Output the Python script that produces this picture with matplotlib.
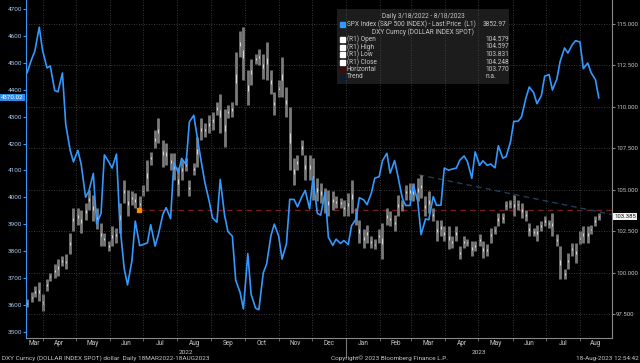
import numpy as np
import pandas as pd
import matplotlib
matplotlib.use('Agg')
import matplotlib.pyplot as plt
import matplotlib.transforms as mtransforms

plt.rcParams['font.family'] = ['Roboto', 'DejaVu Sans']

# Sample dates: first day, then Tuesdays and Fridays up to 18 Aug 2023
dates = pd.DatetimeIndex(['2022-03-18']).append(
    pd.date_range('2022-03-21', '2023-08-18', freq='W-TUE').append(
        pd.date_range('2022-03-21', '2023-08-18', freq='W-FRI')).sort_values())

# SPX Index close (left axis)
spx = [4463, 4512, 4543, 4632, 4546, 4481, 4488, 4397, 4392, 4462,
       4272, 4175, 4132, 4175, 4123, 4001, 4024, 4089, 3901, 3941,
       4158, 4132, 4109, 4161, 3901, 3735, 3675, 3765, 3912, 3821,
       3825, 3831, 3899, 3819, 3863, 3937, 3962, 3921, 4130, 4091,
       4145, 4122, 4280, 4305, 4228, 4128, 4057, 3986, 3924, 3908,
       4067, 3932, 3873, 3856, 3693, 3647, 3586, 3791, 3640, 3589,
       3583, 3720, 3752, 3859, 3901, 3856, 3771, 3828, 3993, 3992,
       3965, 4003, 4026, 3958, 4072, 3941, 3934, 4019, 3852, 3822,
       3845, 3829, 3840, 3825, 3895, 3919, 3999, 3991, 3973, 4017,
       4071, 4077, 4136, 4164, 4090, 4137, 4079, 3997, 3970, 3970,
       4046, 3986, 3862, 3920, 3917, 4003, 3971, 3971, 4109, 4101,
       4105, 4109, 4138, 4154, 4133, 4071, 4169, 4119, 4136, 4119,
       4124, 4110, 4192, 4146, 4151, 4206, 4282, 4283, 4299, 4369,
       4410, 4389, 4348, 4378, 4450, 4456, 4399, 4439, 4505, 4555,
       4536, 4567, 4582, 4577, 4478, 4499, 4464, 4437, 4370]

# DXY Curncy low / high per sample (right axis)
dxy_low = [97.9, 98.2, 98.5, 98.3, 97.7, 98.9, 99.5, 99.7, 99.8, 100.4,
           100.2, 101.1, 102.5, 102.9, 102.4, 103.2, 103.8, 103.1, 102.6, 101.6,
           101.6, 101.3, 101.6, 101.8, 102.4, 104.2, 103.4, 104.1, 103.9, 103.7,
           104.6, 104.9, 106.5, 107.5, 107.8, 106.4, 106.5, 106.2, 105.6, 104.6,
           105.6, 106.1, 104.6, 105.9, 106.4, 108.0, 108.2, 108.4, 108.6, 109.5,
           108.4, 107.6, 109.3, 109.4, 110.1, 113.0, 111.6, 110.1, 111.3, 112.6,
           112.5, 111.7, 111.6, 110.8, 109.5, 110.6, 110.6, 109.4, 106.2, 105.3,
           106.2, 107.1, 105.6, 105.6, 104.4, 104.3, 104.2, 103.6, 103.4, 103.8,
           103.9, 103.9, 103.4, 103.4, 103.6, 102.9, 101.8, 101.5, 101.8, 101.5,
           101.4, 101.8, 100.8, 102.9, 102.8, 102.5, 103.4, 103.7, 104.4, 104.4,
           104.3, 104.3, 104.5, 103.4, 103.6, 103.1, 101.9, 102.2, 101.9, 101.4,
           101.5, 101.9, 100.8, 101.5, 101.6, 101.0, 101.3, 101.6, 100.9, 101.0,
           101.8, 102.3, 102.8, 103.0, 103.8, 103.9, 103.4, 103.8, 103.3, 103.1,
           102.2, 102.2, 101.9, 102.5, 102.8, 102.7, 102.2, 101.6, 99.6, 99.6,
           100.2, 101.0, 100.6, 101.7, 101.8, 101.8, 102.3, 102.8, 103.2]
dxy_high = [98.4, 98.8, 99.2, 99.4, 98.7, 99.6, 100.0, 100.5, 100.8, 101.0,
            101.1, 102.4, 103.9, 103.9, 103.8, 104.2, 105.0, 104.7, 103.9, 103.0,
            102.4, 101.9, 102.8, 102.7, 104.2, 105.6, 105.0, 104.9, 104.8, 104.6,
            105.3, 106.8, 107.3, 108.6, 109.3, 108.0, 107.8, 107.2, 107.2, 106.4,
            106.8, 106.9, 105.6, 106.6, 108.2, 109.3, 109.0, 109.5, 109.7, 110.3,
            110.8, 109.9, 110.1, 110.3, 113.3, 114.6, 114.8, 112.2, 112.9, 113.2,
            113.5, 113.2, 113.9, 112.2, 110.9, 111.6, 113.0, 111.2, 110.0, 106.9,
            107.1, 108.0, 107.1, 107.1, 106.9, 105.7, 105.4, 105.1, 105.0, 104.9,
            104.6, 104.5, 104.4, 104.8, 105.6, 103.9, 103.2, 102.6, 102.9, 102.2,
            102.0, 102.6, 103.0, 103.9, 103.7, 103.5, 104.7, 104.4, 105.3, 105.4,
            105.4, 105.7, 105.9, 104.6, 104.9, 103.9, 103.2, 103.2, 102.8, 102.8,
            102.2, 102.8, 101.6, 102.2, 102.0, 101.9, 101.9, 102.3, 101.9, 101.7,
            102.7, 102.8, 103.6, 103.6, 104.3, 104.4, 104.7, 104.4, 104.2, 103.8,
            103.0, 102.7, 102.9, 103.1, 103.4, 103.2, 103.6, 102.3, 101.6, 100.2,
            101.2, 101.8, 101.8, 102.5, 102.8, 102.8, 102.9, 103.4, 103.6]

horizontal_level = 103.77
horizontal_start = pd.Timestamp('2022-06-27')
trend_dates = [pd.Timestamp('2023-03-08'), pd.Timestamp('2023-08-30')]
trend_values = [105.9, 103.5]

left_ticks = [3500, 3600, 3700, 3800, 3900, 4000, 4100, 4200, 4300, 4400, 4500, 4600, 4700]
right_ticks = [97.5, 100.0, 102.5, 105.0, 107.5, 110.0, 112.5, 115.0]

legend_rows = [('(R1) Open', '104.579'), ('(R1) High', '104.597'),
               ('(R1) Low', '103.831'), ('(R1) Close', '104.248'),
               ('Horizontal', '103.770'), ('Trend', 'n.a.')]

W, H = 640, 363
BG = '#000000'
BLUE = '#3399ff'
TXT = '#c8c8c8'
GRID = '#4a4a4a'

fig = plt.figure(figsize=(W / 100, H / 100), dpi=100, facecolor=BG)
ax = fig.add_axes([26 / W, 25 / H, 586 / W, 338 / H])
ax2 = ax.twinx()
ax2.set_facecolor(BG)
ax.set_zorder(ax2.get_zorder() + 1)
ax.patch.set_visible(False)

x0, x1 = pd.Timestamp('2022-03-17'), pd.Timestamp('2023-08-30')
ax.set_xlim(x0, x1)
ax.set_ylim(3478, 4733)
ax2.set_ylim(96.05, 116.45)

# DXY candles
lo = np.array(dxy_low)
hi = np.array(dxy_high)
ax2.vlines(dates, lo, hi, color='#7a7a7a', lw=2.0, zorder=3)
rng = hi - lo
ax2.vlines(dates, lo + rng * 0.42, hi - rng * 0.42, color='#e8e8e8', lw=0.6, zorder=4)

# horizontal and trend lines
ax2.hlines(horizontal_level, horizontal_start, x1, color='#7a1c1c', lw=1.0,
           linestyles=(0, (4, 3)), zorder=2)
ax2.plot([horizontal_start], [horizontal_level], marker='s', ms=3, color='#ff8c00',
         zorder=5, clip_on=False)
ax2.plot(trend_dates, trend_values, color='#1f3d5c', lw=1.0, ls=(0, (4, 3)), zorder=2)

# SPX line
ax.plot(dates, spx, color=BLUE, lw=1.2, zorder=5)

# grids
month_starts = pd.date_range('2022-04-01', '2023-08-01', freq='MS')
ax.set_xticks(month_starts, minor=True)
ax.grid(which='minor', axis='x', color=GRID, ls=(0, (1, 2)), lw=0.6)
ax2.set_yticks(right_ticks)
ax2.grid(axis='y', color=GRID, ls=(0, (1, 2)), lw=0.6)
ax.grid(which='major', axis='x', visible=False)

# month labels centred on visible span of each month
edges = [x0] + list(month_starts) + [x1]
mids = [a + (b - a) / 2 for a, b in zip(edges[:-1], edges[1:])]
ax.set_xticks(mids)
ax.set_xticklabels([m.strftime('%b') for m in mids])
ax.tick_params(axis='x', which='major', length=0, pad=1.5, labelsize=4.7, labelcolor=TXT)
ax.tick_params(axis='x', which='minor', length=2, color='#777777')

ax.set_yticks(left_ticks)
ax.tick_params(axis='y', length=2, color=BLUE, labelsize=4.6, labelcolor='#a9c9ee', pad=1)
ax2.tick_params(axis='y', length=2, color='#888888', labelsize=4.3, labelcolor=TXT, pad=1)
ax2.yaxis.set_major_formatter(matplotlib.ticker.FormatStrFormatter('%.3f'))

for a in (ax, ax2):
    a.spines['top'].set_visible(False)
ax.spines['left'].set_color(BLUE)
ax.spines['right'].set_visible(False)
ax2.spines['left'].set_visible(False)
ax2.spines['right'].set_color('#888888')
ax.spines['bottom'].set_color('#888888')
ax2.spines['bottom'].set_visible(False)

# year labels and separator
tb = mtransforms.blended_transform_factory(ax.transData, ax.transAxes)
y2023 = pd.Timestamp('2023-01-01')
ax.plot([y2023, y2023], [0, -0.055], transform=tb, color='#777777', lw=0.8, clip_on=False)
ax.text(x0 + (y2023 - x0) / 2, -0.042, '2022', transform=tb, ha='center', va='center',
        fontsize=4.6, color=TXT)
ax.text(y2023 + (x1 - y2023) / 2, -0.042, '2023', transform=tb, ha='center', va='center',
        fontsize=4.6, color=TXT)

# last value tags
tl = mtransforms.blended_transform_factory(ax.transAxes, ax.transData)
ax.text(-0.004, spx[-1], '4370.02', transform=tl, ha='right', va='center', fontsize=4.4,
        color='white', bbox=dict(boxstyle='square,pad=0.2', fc='#2f8be6', ec='none'),
        clip_on=False, zorder=10)
tr = mtransforms.blended_transform_factory(ax2.transAxes, ax2.transData)
ax2.text(1.004, 103.385, '103.385', transform=tr, ha='left', va='center', fontsize=4.3,
         color='#111111', bbox=dict(boxstyle='square,pad=0.2', fc='#f2f2f2', ec='none'),
         clip_on=False, zorder=10)


def px(x, y):
    return x / W, 1 - y / H


# legend box
lg = fig.add_axes([337 / W, 1 - 84 / H, 172 / W, 75 / H])
lg.set_xlim(337, 509)
lg.set_ylim(84, 9)
lg.set_facecolor('#1c1c1c')
lg.set_xticks([])
lg.set_yticks([])
for s in lg.spines.values():
    s.set_visible(False)
fs = 4.7
lg.text(423, 17, 'Daily 3/18/2022 - 8/18/2023', ha='center', va='center', fontsize=fs, color=TXT)
lg.add_patch(plt.Rectangle((340, 22), 5, 5, color=BLUE))
lg.text(347, 24.5, 'SPX Index (S&P 500 INDEX) - Last Price  (L1)', ha='left', va='center',
        fontsize=fs, color=TXT)
lg.text(506, 24.5, '3852.97', ha='right', va='center', fontsize=fs, color=TXT)
lg.text(423, 32, 'DXY Curncy (DOLLAR INDEX SPOT)', ha='center', va='center', fontsize=fs, color=TXT)
sq_colors = ['white', 'white', 'white', 'white', '#3a0c0c', '#0c1c2c']
for i, (name, val) in enumerate(legend_rows):
    yy = 39.5 + i * 7.5
    lg.add_patch(plt.Rectangle((340, yy - 2.5), 5, 5, color=sq_colors[i]))
    lg.text(347, yy, name, ha='left', va='center', fontsize=fs, color=TXT)
    lg.text(485, yy, val, ha='left', va='center', fontsize=fs, color=TXT)

# footer
fig.text(*px(2, 358.5), 'DXY Curncy (DOLLAR INDEX SPOT) dollar  Daily 18MAR2022-18AUG2023',
         ha='left', va='center', fontsize=4.6, color=TXT)
fig.text(*px(389, 358.5), 'Copyright\u00a9 2023 Bloomberg Finance L.P.', ha='center', va='center',
         fontsize=4.6, color=TXT)
fig.text(*px(639, 358.5), '18-Aug-2023 12:54:42', ha='right', va='center', fontsize=4.6, color=TXT)

fig.savefig('out.png', dpi=100, facecolor=BG)
